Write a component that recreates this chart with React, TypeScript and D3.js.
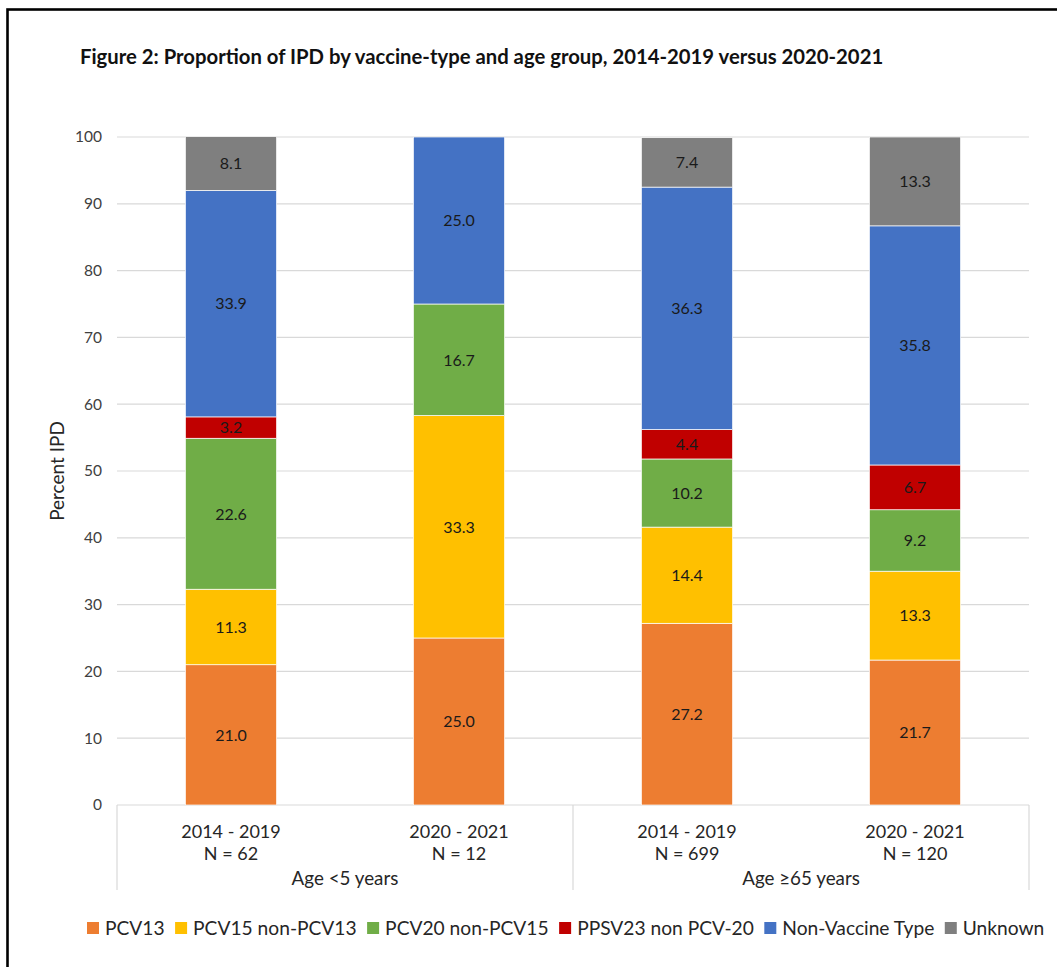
import React, { useEffect, useRef } from "react";
import * as d3 from "d3";

// Categories along the x axis (two periods per age group)
const periods = ["2014 - 2019", "2020 - 2021", "2014 - 2019", "2020 - 2021"];
const sampleSizes = ["N = 62", "N = 12", "N = 699", "N = 120"];
const ageGroups = ["Age <5 years", "Age ≥65 years"];

// Series (percent of IPD), one value per category
const seriesNames = [
  "PCV13",
  "PCV15 non-PCV13",
  "PCV20 non-PCV15",
  "PPSV23 non PCV-20",
  "Non-Vaccine Type",
  "Unknown",
];
const pcv13 = [21.0, 25.0, 27.2, 21.7];
const pcv15NonPcv13 = [11.3, 33.3, 14.4, 13.3];
const pcv20NonPcv15 = [22.6, 16.7, 10.2, 9.2];
const ppsv23NonPcv20 = [3.2, 0, 4.4, 6.7];
const nonVaccineType = [33.9, 25.0, 36.3, 35.8];
const unknownType = [8.1, 0, 7.4, 13.3];
const seriesColors = ["#ED7D31", "#FFC000", "#70AD47", "#C00000", "#4472C4", "#7F7F7F"];

const yTicks = [0, 10, 20, 30, 40, 50, 60, 70, 80, 90, 100];

const title =
  "Figure 2: Proportion of IPD by vaccine-type and age group, 2014-2019 versus 2020-2021";

const FONT = "Lato, 'Open Sans', sans-serif";

export default function App() {
  const ref = useRef<SVGSVGElement | null>(null);

  useEffect(() => {
    const svg = d3.select(ref.current);
    svg.selectAll("*").remove();

    const W = 1057;
    const H = 967;
    const left = 117;
    const right = 1029;
    const top = 137;
    const bottom = 805;

    svg.attr("width", W).attr("height", H);

    // outer frame
    svg
      .append("rect")
      .attr("x", 7.5)
      .attr("y", 9.5)
      .attr("width", 1200)
      .attr("height", 1200)
      .attr("fill", "none")
      .attr("stroke", "#000")
      .attr("stroke-width", 2.6);

    svg
      .append("text")
      .attr("x", 80)
      .attr("y", 64)
      .attr("font-family", FONT)
      .attr("font-weight", 700)
      .attr("font-size", 20.3)
      .attr("fill", "#111")
      .text(title);

    const seriesValues = [pcv13, pcv15NonPcv13, pcv20NonPcv15, ppsv23NonPcv20, nonVaccineType, unknownType];
    const rows = periods.map((p, i) => {
      const r: any = { idx: i };
      seriesNames.forEach((s, k) => (r[s] = seriesValues[k][i]));
      return r;
    });

    const x = d3
      .scaleBand<number>()
      .domain(periods.map((_, i) => i))
      .range([left, right])
      .paddingInner(0.6)
      .paddingOuter(0.3);
    const y = d3.scaleLinear().domain([0, 100]).range([bottom, top]);

    // gridlines
    svg
      .append("g")
      .selectAll("line")
      .data(yTicks)
      .join("line")
      .attr("x1", left)
      .attr("x2", right)
      .attr("y1", (d) => y(d))
      .attr("y2", (d) => y(d))
      .attr("stroke", "#D9D9D9")
      .attr("stroke-width", 1.2);

    // y tick labels
    svg
      .append("g")
      .selectAll("text")
      .data(yTicks)
      .join("text")
      .attr("x", 102)
      .attr("y", (d) => y(d))
      .attr("dy", "0.35em")
      .attr("text-anchor", "end")
      .attr("font-family", FONT)
      .attr("font-size", 15.5)
      .attr("fill", "#404040")
      .text((d) => d);

    // y axis title
    svg
      .append("text")
      .attr("transform", `translate(64,${(top + bottom) / 2}) rotate(-90)`)
      .attr("text-anchor", "middle")
      .attr("font-family", FONT)
      .attr("font-size", 19)
      .attr("fill", "#262626")
      .text("Percent IPD");

    svg
      .append("clipPath")
      .attr("id", "plot-clip")
      .append("rect")
      .attr("x", left)
      .attr("y", top)
      .attr("width", right - left)
      .attr("height", bottom - top);

    const stack = d3.stack<any>().keys(seriesNames);
    const stacked = stack(rows);

    const barG = svg.append("g").attr("clip-path", "url(#plot-clip)");
    stacked.forEach((layer, k) => {
      barG
        .append("g")
        .selectAll("rect")
        .data(layer.filter((d) => d[1] - d[0] > 0))
        .join("rect")
        .attr("x", (d) => x(d.data.idx)!)
        .attr("width", x.bandwidth())
        .attr("y", (d) => y(d[1]))
        .attr("height", (d) => y(d[0]) - y(d[1]))
        .attr("fill", seriesColors[k])
        .attr("stroke", "#fff")
        .attr("stroke-width", 0.7);
    });

    // data labels
    const labelG = svg.append("g");
    stacked.forEach((layer) => {
      labelG
        .selectAll(null)
        .data(layer.filter((d) => d[1] - d[0] > 0))
        .join("text")
        .attr("x", (d) => x(d.data.idx)! + x.bandwidth() / 2)
        .attr("y", (d) => y((d[0] + Math.min(d[1], 100)) / 2))
        .attr("dy", "0.36em")
        .attr("text-anchor", "middle")
        .attr("font-family", FONT)
        .attr("font-size", 16)
        .attr("fill", "#1a1a1a")
        .text((d) => (d[1] - d[0]).toFixed(1));
    });

    // category separators
    const sepX = [left, (left + right) / 2, right];
    svg
      .append("g")
      .selectAll("line")
      .data(sepX)
      .join("line")
      .attr("x1", (d) => d)
      .attr("x2", (d) => d)
      .attr("y1", bottom)
      .attr("y2", 890)
      .attr("stroke", "#D9D9D9")
      .attr("stroke-width", 1.2);

    // category labels: period, sample size, age group
    const catG = svg
      .append("g")
      .attr("font-family", FONT)
      .attr("font-size", 18)
      .attr("fill", "#262626")
      .attr("text-anchor", "middle");
    catG
      .selectAll(".period")
      .data(periods)
      .join("text")
      .attr("class", "period")
      .attr("x", (_, i) => x(i)! + x.bandwidth() / 2)
      .attr("y", 838)
      .text((d) => d);
    catG
      .selectAll(".nsize")
      .data(sampleSizes)
      .join("text")
      .attr("class", "nsize")
      .attr("x", (_, i) => x(i)! + x.bandwidth() / 2)
      .attr("y", 860)
      .text((d) => d);
    catG
      .selectAll(".age")
      .data(ageGroups)
      .join("text")
      .attr("class", "age")
      .attr("x", (_, i) => (sepX[i] + sepX[i + 1]) / 2)
      .attr("y", 885)
      .attr("font-size", 18.8)
      .text((d) => d);

    // legend, laid out left to right
    const legend = svg.append("g").attr("font-family", FONT).attr("font-size", 19.2);
    let cx = 87;
    seriesNames.forEach((name, k) => {
      legend
        .append("rect")
        .attr("x", cx)
        .attr("y", 922)
        .attr("width", 12)
        .attr("height", 12)
        .attr("fill", seriesColors[k]);
      const t = legend
        .append("text")
        .attr("x", cx + 18)
        .attr("y", 934.5)
        .attr("fill", "#262626")
        .text(name);
      const w = (t.node() as SVGTextElement).getComputedTextLength();
      cx += 18 + w + 10.5;
    });
  }, []);

  return (
    <div style={{ position: "absolute", left: 0, top: 0, background: "#fff" }}>
      <svg ref={ref} style={{ display: "block" }} />
    </div>
  );
}
